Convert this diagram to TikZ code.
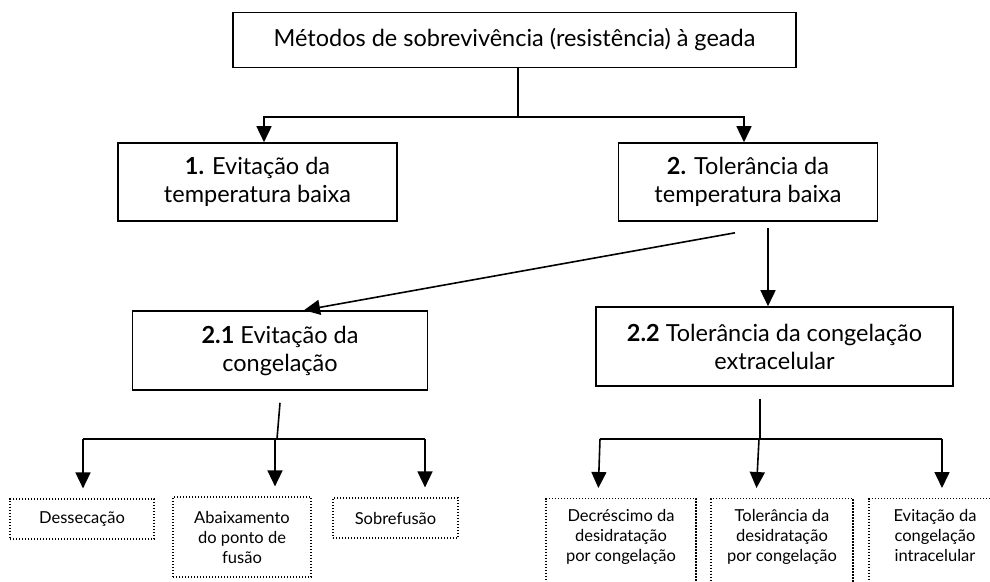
\documentclass[tikz,border=0pt]{standalone}
\usepackage{fontspec}
\setmainfont{Lato}
\usepackage{tikz}
\usetikzlibrary{positioning}
\usetikzlibrary{arrows.meta}
\tikzset{every picture/.style={line width=1.6pt, >={Triangle[width=15pt,length=16pt]}}}
\tikzset{mainbox/.style={draw=black, fill=white, align=center, inner sep=0pt, font=\fontsize{23.5}{28}\selectfont}}
\tikzset{leafbox/.style={draw=black, line width=1.2pt, dash pattern=on 1.2pt off 1.8pt, align=center, inner sep=0pt, font=\fontsize{16.5}{20}\selectfont}}

\begin{document}
\begin{tikzpicture}[x=1pt, y=-1pt]
        \useasboundingbox (0,0) rectangle (990,581);
        \clip (0,0) rectangle (990,581);
        \node[mainbox, minimum width=563pt, minimum height=55pt] (metodos) at (514.5,40) {Métodos de sobrevivência (resistência) à geada};
        \node[mainbox, minimum width=279pt, minimum height=78pt] (evitT) at (257.5,182) {\textbf{1.} Evitação da\\temperatura baixa};
        \node[mainbox, minimum width=259pt, minimum height=78pt] (tolerT) at (748,182) {\textbf{2.} Tolerância da\\temperatura baixa};
        \node[mainbox, minimum width=295pt, minimum height=79pt] (evitC) at (280,350.5) {\textbf{2.1} Evitação da\\congelação};
        \node[mainbox, minimum width=357pt, minimum height=79pt] (tolerC) at (774.5,346.5) {\textbf{2.2} Tolerância da congelação\\extracelular};
        \node[leafbox, minimum width=144pt, minimum height=40pt] (desse) at (82,519) {Dessecação};
        \node[leafbox, minimum width=138pt, minimum height=80pt] (abaix) at (242,537) {Abaixamento\\do ponto de\\fusão};
        \node[leafbox, minimum width=125pt, minimum height=40pt] (sobre) at (395.5,518) {Sobrefusão};
        \node[leafbox, minimum width=150pt, text height=63pt, text depth=40pt, anchor=north] (decre) at (621,498) {Decréscimo da\\desidratação\\por congelação};
        \node[leafbox, minimum width=142pt, text height=63pt, text depth=40pt, anchor=north] (tolerD) at (782,498) {Tolerância da\\desidratação\\por congelação};
        \node[leafbox, minimum width=132pt, text height=63pt, text depth=40pt, anchor=north] (evitI) at (935,498) {Evitação da\\congelação\\intracelular};
        \coordinate (topJ) at (518,117);
        \draw (metodos.south -| topJ) -- (topJ);
        \draw[->] (topJ) -| ([xshift=6.5pt]evitT.north);
        \draw[->] (topJ) -| ([xshift=-4pt]tolerT.north);
        \draw[->] ([xshift=-13pt, yshift=-11pt]tolerT.south) -- ([xshift=24pt]evitC.north);
        \draw[->] ([xshift=20pt, yshift=-6pt]tolerT.south) -- ([xshift=-6.5pt]tolerC.north);
        \coordinate (leftJ) at (277,439);
        \coordinate (leftA) at (83,439);
        \coordinate (leftB) at (275,439);
        \coordinate (leftC) at (425,439);
        \draw ([yshift=-12pt]evitC.south) -- (leftJ);
        \draw (leftA) -- (leftC);
        \draw[->, shorten >=10pt] (leftA) -- (leftA |- desse.north);
        \draw[->, shorten >=10pt] (leftB) -- (leftB |- abaix.north);
        \draw[->, shorten >=10pt] (leftC) -- (leftC |- sobre.north);
        \coordinate (rightJ) at (760,439);
        \coordinate (rightA) at (600,439);
        \coordinate (rightB) at (759,439);
        \coordinate (rightC) at (942,439);
        \draw ([xshift=-14.5pt, yshift=-12pt]tolerC.south) -- (rightJ);
        \draw (rightA) -- (rightC);
        \draw[->, shorten >=10pt] (rightA) -- ([xshift=-23pt]decre.north);
        \draw[->, shorten >=10pt] (rightB) -- ([xshift=-26pt]tolerD.north);
        \draw[->, shorten >=10pt] (rightC) -- (rightC |- evitI.north);
    \end{tikzpicture}
\end{document}
